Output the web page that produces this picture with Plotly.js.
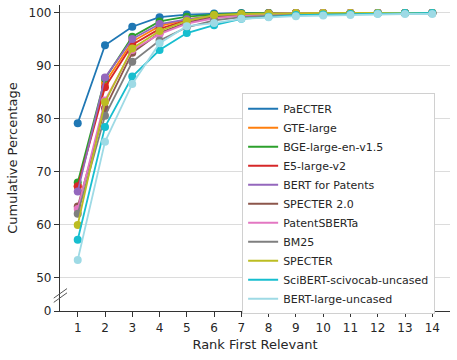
<!DOCTYPE html>
<html>
<head>
<meta charset="utf-8">
<script src="https://cdn.plot.ly/plotly-3.0.1.min.js"></script>
<style>
  body { margin: 0; background: #fff; }
  #plot { width: 457px; height: 360px; }
</style>
</head>
<body>
<div id="plot"></div>
<script>
var ranks = [1, 2, 3, 4, 5, 6, 7, 8, 9, 10, 11, 12, 13, 14];

var paecter     = [79.2, 93.9, 97.4, 99.2, 99.7, 99.9, 100, 100, 100, 100, 100, 100, 100, 100];
var gteLarge    = [67.3, 86.8, 94.6, 97.5, 98.8, 99.5, 99.8, 99.9, 100, 100, 100, 100, 100, 100];
var bgeLarge    = [68.0, 87.6, 95.5, 98.4, 99.3, 99.7, 99.9, 100, 100, 100, 100, 100, 100, 100];
var e5Large     = [67.3, 86.0, 94.0, 97.0, 98.6, 99.4, 99.7, 99.9, 100, 100, 100, 100, 100, 100];
var bertPatents = [66.3, 87.8, 95.1, 97.9, 98.8, 99.4, 99.7, 99.9, 100, 100, 100, 100, 100, 100];
var specter2    = [63.5, 82.0, 92.5, 96.2, 98.2, 99.2, 99.6, 99.8, 99.9, 100, 100, 100, 100, 100];
var patentSbert = [63.0, 83.5, 93.0, 96.0, 98.0, 99.0, 99.5, 99.8, 99.9, 100, 100, 100, 100, 100];
var bm25        = [62.1, 80.6, 90.8, 94.8, 97.3, 98.6, 99.2, 99.5, 99.7, 99.8, 99.9, 100, 100, 100];
var specter     = [60.0, 83.2, 93.3, 96.6, 98.5, 99.6, 99.8, 99.9, 100, 100, 100, 100, 100, 100];
var scibert     = [57.2, 78.5, 88.0, 93.0, 96.2, 97.7, 98.9, 99.3, 99.6, 99.7, 99.8, 99.9, 100, 100];
var bertLarge   = [53.4, 75.7, 86.6, 94.3, 97.5, 98.1, 98.9, 99.2, 99.4, 99.5, 99.6, 99.8, 99.8, 99.8];

var names = ['PaECTER', 'GTE-large', 'BGE-large-en-v1.5', 'E5-large-v2', 'BERT for Patents',
             'SPECTER 2.0', 'PatentSBERTa', 'BM25', 'SPECTER', 'SciBERT-scivocab-uncased', 'BERT-large-uncased'];
var series = [paecter, gteLarge, bgeLarge, e5Large, bertPatents, specter2, patentSbert, bm25, specter, scibert, bertLarge];
var colors = ['#1f77b4', '#ff7f0e', '#2ca02c', '#d62728', '#9467bd', '#8c564b',
              '#e377c2', '#7f7f7f', '#bcbd22', '#17becf', '#9edae5'];

// broken y axis: "0" sits just below 50
var zeroPos = 43.77;
var yTicks = [zeroPos, 50, 60, 70, 80, 90, 100];
var yTickText = ['0', '50', '60', '70', '80', '90', '100'];

var data = [];
for (var i = 0; i < series.length; i++) {
  data.push({
    x: ranks, y: series[i], name: names[i], type: 'scatter', mode: 'lines+markers',
    line: {color: colors[i], width: 1.8},
    marker: {color: colors[i], size: 8},
    showlegend: false
  });
}
// legend entries show lines only
for (var j = 0; j < series.length; j++) {
  data.push({
    x: [null], y: [null], name: names[j], type: 'scatter', mode: 'lines',
    line: {color: colors[j], width: 2}
  });
}

var layout = {
  width: 457, height: 360,
  margin: {l: 60, r: 7, t: 5, b: 49},
  paper_bgcolor: '#fff', plot_bgcolor: '#fff',
  font: {family: 'DejaVu Sans', size: 12, color: '#262626'},
  showlegend: true,
  legend: {
    x: 0.467, y: 0.712, xanchor: 'left', yanchor: 'top',
    bgcolor: '#fff', bordercolor: '#d0d0d0', borderwidth: 1,
    font: {size: 11}, tracegroupgap: 0, itemwidth: 30
  },
  xaxis: {
    range: [0.35, 14.65],
    tickvals: ranks,
    showgrid: false, zeroline: false,
    showline: true, linecolor: '#333', linewidth: 1.25,
    ticks: 'outside', ticklen: 5, tickwidth: 1.25, tickcolor: '#333',
    title: {text: 'Rank First Relevant', font: {size: 13}, standoff: 6}
  },
  yaxis: {
    range: [zeroPos, 101.5],
    tickvals: yTicks, ticktext: yTickText,
    showgrid: true, gridcolor: '#dcdcdc', gridwidth: 1, zeroline: false,
    showline: true, linecolor: '#333', linewidth: 1.25,
    ticks: 'outside', ticklen: 5, tickwidth: 1.25, tickcolor: '#333',
    title: {text: 'Cumulative Percentage', font: {size: 13}, standoff: 8}
  },
  shapes: [
    {type: 'line', xref: 'paper', yref: 'y', x0: -0.016, x1: 0.018, y0: 46.2, y1: 48.0,
     line: {color: '#555', width: 1}},
    {type: 'line', xref: 'paper', yref: 'y', x0: -0.016, x1: 0.018, y0: 45.4, y1: 47.2,
     line: {color: '#555', width: 1}}
  ]
};

Plotly.newPlot('plot', data, layout, {displayModeBar: false});
</script>
</body>
</html>
